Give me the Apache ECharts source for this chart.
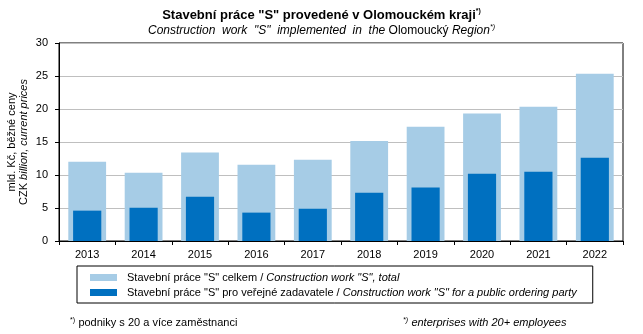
<!DOCTYPE html>
<html>
<head>
<meta charset="utf-8">
<script src="https://cdn.jsdelivr.net/npm/echarts@6/dist/echarts.min.js"></script>
<style>
  html, body { margin: 0; padding: 0; background: #fff; }
  #chart { width: 643px; height: 334px; }
</style>
</head>
<body>
<div id="chart"></div>
<script>
// Construction work "S" in the Olomouc Region, CZK billion (current prices)
const years = ['2013', '2014', '2015', '2016', '2017', '2018', '2019', '2020', '2021', '2022'];
const totalWork = [12.0, 10.35, 13.4, 11.55, 12.3, 15.15, 17.3, 19.3, 20.35, 25.35];
const publicWork = [4.6, 5.05, 6.7, 4.3, 4.9, 7.3, 8.1, 10.2, 10.5, 12.6];
const yTicks = { min: 0, max: 30, interval: 5 };

const FONT = 'Liberation Sans, Arial, sans-serif';
const chart = echarts.init(document.getElementById('chart'), null, { renderer: 'canvas' });

chart.setOption({
  animation: false,
  textStyle: { fontFamily: FONT, color: '#000' },
  title: {
    left: 'center',
    top: 3,
    itemGap: 2,
    text: '{b|Stavební práce "S" provedené v Olomouckém kraji}{sup|*)}',
    textStyle: {
      rich: {
        b: { fontFamily: FONT, fontSize: 13, fontWeight: 'bold', color: '#000' },
        sup: { fontFamily: FONT, fontSize: 7, fontWeight: 'bold', color: '#000', padding: [0, 0, 7, 0] }
      }
    },
    subtext: '{i|Construction  work  "S"  implemented  in  the} {n|Olomoucký} {i|Region}{sup|*)}',
    subtextStyle: {
      rich: {
        i: { fontFamily: FONT, fontSize: 12, fontStyle: 'italic', color: '#000' },
        n: { fontFamily: FONT, fontSize: 12, color: '#000' },
        sup: { fontFamily: FONT, fontSize: 7, fontStyle: 'italic', color: '#000', padding: [0, 0, 7, 0] }
      }
    }
  },
  grid: {
    left: 59, right: 20, top: 43, bottom: 93,
    containLabel: false,
    outerBoundsMode: 'none',
    show: true, borderColor: '#000', borderWidth: 1, backgroundColor: 'transparent'
  },
  legend: {
    orient: 'vertical',
    left: 77, top: 266,
    itemWidth: 27, itemHeight: 7, itemGap: 4,
    padding: [6, 16, 5, 13],
    borderColor: '#000', borderWidth: 1,
    icon: 'rect',
    data: ['total', 'public'],
    formatter: function (name) {
      if (name === 'total') {
        return '{n|Stavební práce "S" celkem / }{i|Construction work "S", total}';
      }
      return '{n|Stavební práce "S" pro veřejné zadavatele / }{i|Construction work "S" for a public ordering party}';
    },
    textStyle: {
      padding: [0, 0, 0, 5],
      rich: {
        n: { fontFamily: FONT, fontSize: 11, color: '#000' },
        i: { fontFamily: FONT, fontSize: 11, fontStyle: 'italic', color: '#000' }
      }
    }
  },
  xAxis: [
    {
      type: 'category',
      data: years,
      axisLine: { lineStyle: { color: '#000', width: 1 } },
      axisTick: { show: true, length: 4, lineStyle: { color: '#000' } },
      axisLabel: { color: '#000', fontSize: 11, margin: 8, fontFamily: FONT },
      splitLine: { show: false }
    },
    {
      type: 'category',
      data: years,
      show: false
    }
  ],
  yAxis: {
    type: 'value',
    min: yTicks.min, max: yTicks.max, interval: yTicks.interval,
    axisLine: { show: true, lineStyle: { color: '#000', width: 1 } },
    axisTick: { show: true, length: 4, lineStyle: { color: '#000' } },
    axisLabel: { color: '#000', fontSize: 11, margin: 11, fontFamily: FONT },
    splitLine: { show: true, lineStyle: { color: '#bfbfbf', width: 1 } },
    name: '{a|mld. Kč, běžné ceny}\n{n|CZK }{b|billion, current prices}',
    nameLocation: 'middle',
    nameRotate: 90,
    nameGap: 29,
    nameMoveOverlap: false,
    nameTextStyle: {
      lineHeight: 12,
      rich: {
        a: { fontFamily: FONT, fontSize: 11, color: '#000', lineHeight: 12 },
        n: { fontFamily: FONT, fontSize: 11, color: '#000', lineHeight: 12 },
        b: { fontFamily: FONT, fontSize: 11, fontStyle: 'italic', color: '#000', lineHeight: 12 }
      }
    }
  },
  series: [
    {
      name: 'total',
      type: 'bar',
      xAxisIndex: 0,
      data: totalWork,
      barWidth: '67%',
      itemStyle: { color: '#a6cce6' },
      z: 2
    },
    {
      name: 'public',
      type: 'bar',
      xAxisIndex: 1,
      data: publicWork,
      barWidth: '50%',
      itemStyle: { color: '#0070c0' },
      z: 3
    }
  ],
  graphic: [
    {
      type: 'text', left: 70, top: 317,
      style: {
        text: '{s|*)} {t|podniky s 20 a více zaměstnanci}',
        rich: {
          s: { fontFamily: FONT, fontSize: 7, fill: '#000', padding: [0, 0, 5, 0] },
          t: { fontFamily: FONT, fontSize: 11, fill: '#000' }
        }
      }
    },
    {
      type: 'text', left: 403, top: 317,
      style: {
        text: '{s|*)} {t|enterprises with 20+ employees}',
        rich: {
          s: { fontFamily: FONT, fontSize: 7, fontStyle: 'italic', fill: '#000', padding: [0, 0, 5, 0] },
          t: { fontFamily: FONT, fontSize: 11, fontStyle: 'italic', fill: '#000' }
        }
      }
    }
  ]
});
</script>
</body>
</html>
